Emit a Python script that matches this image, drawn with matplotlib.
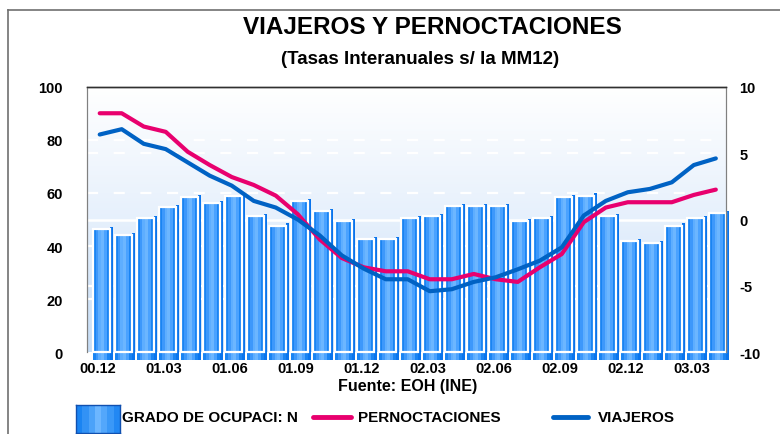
import numpy as np
import matplotlib
matplotlib.use("Agg")
import matplotlib.pyplot as plt
from matplotlib import transforms
from matplotlib.lines import Line2D
from matplotlib.colors import LinearSegmentedColormap

# ---------------- data ----------------
months = ["00.12", "01.01", "01.02", "01.03", "01.04", "01.05", "01.06", "01.07",
          "01.08", "01.09", "01.10", "01.11", "01.12", "02.01", "02.02", "02.03",
          "02.04", "02.05", "02.06", "02.07", "02.08", "02.09", "02.10", "02.11",
          "02.12", "03.01", "03.02", "03.03", "03.04"]
tick_labels = ["00.12", "01.03", "01.06", "01.09", "01.12", "02.03", "02.06",
               "02.09", "02.12", "03.03"]
ocupacion = [46.5, 44.0, 50.4, 54.6, 58.4, 56.2, 59.0, 51.4, 47.7, 57.1, 53.3,
             49.5, 42.6, 42.6, 50.4, 51.4, 55.2, 55.2, 55.2, 49.5, 50.4, 58.4,
             59.0, 51.4, 42.0, 41.0, 47.7, 50.4, 52.3]
pernoctaciones = [8.0, 8.0, 7.0, 6.6, 5.1, 4.1, 3.2, 2.6, 1.8, 0.4, -1.5, -2.9,
                  -3.6, -3.9, -3.9, -4.5, -4.5, -4.1, -4.5, -4.7, -3.6, -2.6,
                  -0.2, 0.9, 1.3, 1.3, 1.3, 1.85, 2.25]
viajeros = [6.4, 6.8, 5.7, 5.3, 4.3, 3.3, 2.55, 1.4, 0.9, 0.0, -1.2, -2.7, -3.7,
            -4.5, -4.5, -5.4, -5.25, -4.7, -4.35, -3.75, -3.1, -2.1, 0.3, 1.4,
            2.05, 2.3, 2.8, 4.1, 4.6]

FONT = "Liberation Sans"
PINK = "#e8006e"
BLUE = "#0062c4"

fig = plt.figure(figsize=(7.8, 4.35), dpi=100)
fig.patch.set_facecolor("white")
ax = fig.add_axes([0.1112, 0.1878, 0.9304 - 0.1112, 0.7984 - 0.1878])
ax2 = ax.twinx()

x = np.arange(len(months))
ax.set_xlim(-0.74, 28.3)
ax.set_ylim(0, 100)
ax2.set_ylim(-10, 10)

# background gradient
grad = np.linspace(0, 1, 256).reshape(-1, 1)
bg_cmap = LinearSegmentedColormap.from_list("bg", ["#ffffff", "#e6f0fc", "#c6ddf6"])
ax.imshow(grad, cmap=bg_cmap, aspect="auto", extent=[0, 1, 0, 1],
          transform=ax.transAxes, zorder=0)

# gridlines (left scale)
for v in [20, 40, 60, 80]:
    ax.axhline(v, color="white", lw=1.6, ls=(0, (5, 7)), zorder=1)
# gridlines from right scale drawn behind bars
blend = transforms.blended_transform_factory(ax.transAxes, ax2.transData)
for v in [-5, 5]:
    ax.plot([0, 1], [v, v], transform=blend, color="white", lw=1.6,
            ls=(0, (5, 7)), zorder=1)
ax.plot([0, 1], [0, 0], transform=blend, color="white", lw=1.8, zorder=1)

# bars: group width ~0.936, box ~0.787 + dark strip 0.15
vals = np.array(ocupacion)
below = 2.8
box_w = 0.787
box_left = x - 0.468
stripes = ["#1a84f2", "#3d98fb", "#5eaeff", "#6cb6ff", "#4aa2ff", "#1a84f2"]
sw = box_w / len(stripes)
for k, c in enumerate(stripes):
    ax.bar(box_left + k * sw, vals + below, width=sw, bottom=-below, align="edge",
           color=c, lw=0, zorder=2, clip_on=False)
# dark side strip
ax.bar(box_left + box_w, vals + below + 0.8, width=0.15, bottom=-below,
       align="edge", color="#0a74ec", lw=0, zorder=2, clip_on=False)
# white outline
ax.bar(box_left, vals, width=box_w, align="edge", fill=False,
       edgecolor="white", lw=1.6, zorder=3, clip_on=False)

# lines
xl = x - 0.15
ax2.plot(xl, pernoctaciones, color=PINK, lw=3.0, solid_capstyle="round",
         solid_joinstyle="round", zorder=5)
ax2.plot(xl, viajeros, color=BLUE, lw=3.0, solid_capstyle="round",
         solid_joinstyle="round", zorder=5)

# axes styling
for a in (ax, ax2):
    a.spines["bottom"].set_visible(False)
    a.spines["left"].set_color("#808080")
    a.spines["right"].set_color("#808080")
    a.spines["top"].set_color("#303030")
    a.spines["top"].set_linewidth(1.0)
ax2.patch.set_visible(False)

ax.set_yticks([0, 20, 40, 60, 80, 100])
ax.set_yticklabels(["0", "20", "40", "60", "80", "100"])
ax2.set_yticks([-10, -5, 0, 5, 10])
ax2.set_yticklabels(["-10", "-5", "0", "5", "10"])
ax.tick_params(axis="y", length=0, pad=17, labelsize=10.5)
ax2.tick_params(axis="y", length=0, pad=10, labelsize=10.5)
for lab in ax.get_yticklabels() + ax2.get_yticklabels():
    lab.set_fontweight("bold")
    lab.set_fontfamily(FONT)

tick_pos = [months.index(t) - 0.25 for t in tick_labels]
ax.set_xticks(tick_pos)
ax.set_xticklabels(tick_labels, fontsize=10.5, fontweight="bold", fontfamily=FONT)
ax.tick_params(axis="x", length=0, pad=6)

# titles
fig.text(432 / 780, 1 - 27.5 / 435, "VIAJEROS Y PERNOCTACIONES", ha="center",
         va="center", fontsize=17.5, fontweight="bold", fontfamily=FONT)
fig.text(420 / 780, 1 - 60 / 435, "(Tasas Interanuales s/ la MM12)", ha="center",
         va="center", fontsize=13.5, fontweight="bold", fontfamily=FONT)
fig.text(408 / 780, 1 - 387 / 435, "Fuente: EOH (INE)", ha="center", va="center",
         fontsize=11.5, fontweight="bold", fontfamily=FONT)

# outer frame
fig.add_artist(Line2D([8 / 780, 1], [1 - 11 / 435, 1 - 11 / 435],
                      transform=fig.transFigure, color="#707070", lw=1.2))
fig.add_artist(Line2D([8 / 780, 8 / 780], [0, 1 - 11 / 435],
                      transform=fig.transFigure, color="#707070", lw=1.2))

# legend
lax = fig.add_axes([76 / 780, 1 / 435, 44 / 780, 28 / 435])
hgrad = np.array([[0.0, 0.3, 0.6, 1.0, 0.7, 0.4, 0.1]])
leg_cmap = LinearSegmentedColormap.from_list("lg", ["#1a84f2", "#6cb6ff"])
lax.imshow(hgrad, cmap=leg_cmap, aspect="auto")
lax.set_xticks([]); lax.set_yticks([])
for s in lax.spines.values():
    s.set_color("#1050b0")
    s.set_linewidth(1.0)
ly = 1 - 418 / 435
fig.text(122 / 780, ly, "GRADO DE OCUPACI: N", ha="left", va="center",
         fontsize=11, fontweight="bold", fontfamily=FONT)
fig.add_artist(Line2D([313 / 780, 351 / 780], [ly, ly], transform=fig.transFigure,
                      color=PINK, lw=3.5, solid_capstyle="round"))
fig.text(358 / 780, ly, "PERNOCTACIONES", ha="left", va="center",
         fontsize=11, fontweight="bold", fontfamily=FONT)
fig.add_artist(Line2D([553 / 780, 588 / 780], [ly, ly], transform=fig.transFigure,
                      color=BLUE, lw=3.5, solid_capstyle="round"))
fig.text(598 / 780, ly, "VIAJEROS", ha="left", va="center",
         fontsize=11, fontweight="bold", fontfamily=FONT)

fig.savefig("out.png", dpi=100)
